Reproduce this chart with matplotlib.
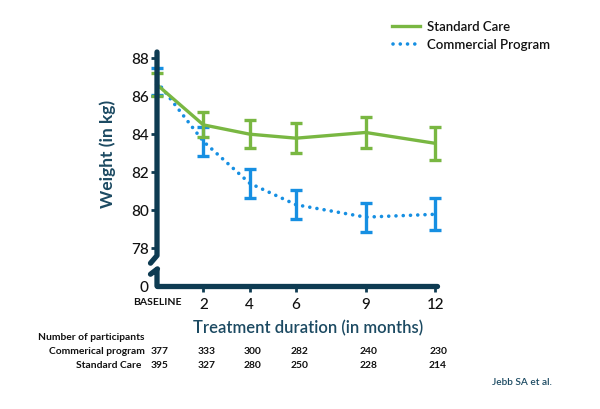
import matplotlib
matplotlib.use("Agg")
from matplotlib import pyplot as plt
from matplotlib.lines import Line2D

plt.rcParams['font.family'] = ['Lato', 'DejaVu Sans']

months = [0, 2, 4, 6, 9, 12]
tick_labels = ["BASELINE", "2", "4", "6", "9", "12"]

standard_mean = [86.58, 84.47, 83.98, 83.77, 84.07, 83.50]
standard_err = [0.60, 0.66, 0.72, 0.79, 0.80, 0.86]
commercial_mean = [86.75, 83.60, 81.40, 80.27, 79.62, 79.77]
commercial_err = [0.70, 0.78, 0.75, 0.76, 0.76, 0.83]

n_commercial = [377, 333, 300, 282, 240, 230]
n_standard = [395, 327, 280, 250, 228, 214]

y_ticks = [76, 78, 80, 82, 84, 86, 88]
y_tick_labels = ["0", "78", "80", "82", "84", "86", "88"]

green = "#79b742"
blue = "#168fe2"
navy = "#0e3b52"
teal = "#1c4a62"
ink = "#111111"

fig = plt.figure(figsize=(6, 4.1), dpi=100)
ax = fig.add_axes([157/600, 0.30, 280/600, 234/410])
ax.set_xlim(0, 12.08)
ax.set_ylim(76, 88.3)
for s in ax.spines.values():
    s.set_visible(False)

# series
ax.plot(months, commercial_mean, color=blue, lw=2.6, linestyle=(0, (0.01, 2.0)),
        dash_capstyle='round', zorder=3, clip_on=False)
ax.errorbar(months, commercial_mean, yerr=commercial_err, fmt='none', ecolor=blue,
            elinewidth=2.4, capsize=4.5, capthick=2.4, zorder=3, clip_on=False)
ax.plot(months, standard_mean, color=green, lw=2.4, zorder=4, clip_on=False)
ax.errorbar(months, standard_mean, yerr=standard_err, fmt='none', ecolor=green,
            elinewidth=2.4, capsize=4.5, capthick=2.4, zorder=4, clip_on=False)

# axis lines with a break on the y axis
kw = dict(color=navy, lw=3.8, solid_capstyle='round', solid_joinstyle='round',
          clip_on=False, zorder=6)
ax.plot([0, 12.08], [76, 76], **kw)
ax.plot([0, 0, -0.28], [88.3, 77.6, 77.2], **kw)
ax.plot([-0.28, 0.02, 0, 0], [76.62, 76.9, 76.85, 76], **kw)

ax.set_yticks(y_ticks)
ax.set_yticklabels(y_tick_labels)
ax.set_xticks(months)
ax.set_xticklabels(tick_labels)
ax.tick_params(axis='y', length=4, width=2, color=navy, pad=2, labelsize=11,
               labelcolor=ink)
ax.tick_params(axis='x', length=4, width=2, color=navy, pad=4, labelsize=11,
               labelcolor=ink)
for lbl in ax.get_xticklabels() + ax.get_yticklabels():
    lbl.set_fontweight('medium')
ax.get_xticklabels()[0].set_fontsize(7.5)
ax.get_xticklabels()[0].set_fontweight('bold')
ax.yaxis.get_major_ticks()[0].tick1line.set_visible(False)
ax.xaxis.get_major_ticks()[0].tick1line.set_visible(False)

fig.text(108/600, 1 - 154/410, "Weight (in kg)", rotation=90, ha='center', va='center',
         fontsize=12.5, fontweight='bold', color=teal)
fig.text(308/600, 1 - 328/410, "Treatment duration (in months)", ha='center', va='center',
         fontsize=12, fontweight='semibold', color=teal)

# participants table
tk = dict(va='center', fontsize=7.4, fontweight='bold', color=ink)
fig.text(38/600, 1 - 338/410, "Number of participants", ha='left', **tk)
fig.text(145/600, 1 - 352/410, "Commerical program", ha='right', **tk)
fig.text(141/600, 1 - 366/410, "Standard Care", ha='right', **tk)
for m, a, b in zip(months, n_commercial, n_standard):
    xf = (157 + m * 23.17 + 3) / 600
    fig.text(xf, 1 - 352/410, str(a), ha='center', **tk)
    fig.text(xf, 1 - 366/410, str(b), ha='center', **tk)

fig.text(522/600, 1 - 383/410, "Jebb SA et al.", ha='center', va='center',
         fontsize=7.3, fontweight='semibold', color=teal)

# legend
fig.add_artist(Line2D([392/600, 420/600], [1 - 27/410, 1 - 27/410], color=green, lw=2.4))
fig.add_artist(Line2D([393/600, 420/600], [1 - 45/410, 1 - 45/410], color=blue, lw=2.6,
                      linestyle=(0, (0.01, 2.0)), dash_capstyle='round'))
fig.text(427/600, 1 - 27/410, "Standard Care", ha='left', va='center', fontsize=9.5,
         fontweight='semibold', color=ink)
fig.text(427/600, 1 - 45/410, "Commercial Program", ha='left', va='center', fontsize=9.5,
         fontweight='semibold', color=ink)

fig.savefig("out.png", dpi=100)
